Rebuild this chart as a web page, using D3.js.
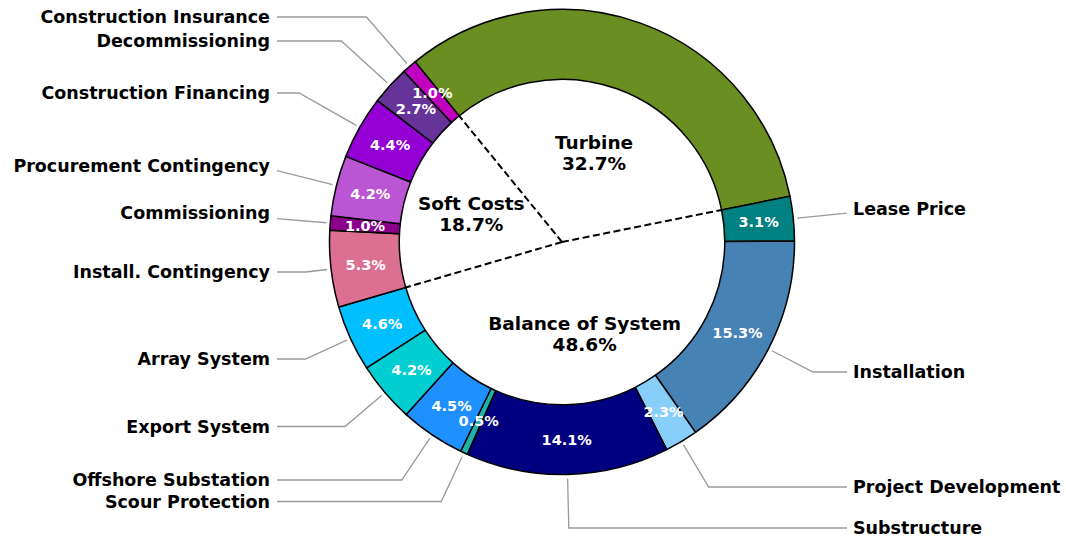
<!DOCTYPE html>
<html>
<head>
<meta charset="utf-8">
<script src="https://cdn.jsdelivr.net/npm/d3@7"></script>
<style>
  html, body { margin: 0; padding: 0; background: #fff; }
  svg { display: block; }
  text { font-family: "DejaVu Sans", sans-serif; font-weight: bold; }
</style>
</head>
<body>
<svg id="chart" width="1066" height="538"></svg>
<script>
// ---- data ----
const categories = [
  "Turbine", "Lease Price", "Installation", "Project Development", "Substructure",
  "Scour Protection", "Offshore Substation", "Export System", "Array System",
  "Install. Contingency", "Commissioning", "Procurement Contingency",
  "Construction Financing", "Decommissioning", "Construction Insurance"
];
const shares = [32.7, 3.1, 15.3, 2.3, 14.1, 0.5, 4.5, 4.2, 4.6, 5.3, 1.0, 4.2, 4.4, 2.7, 1.0];
const categoryGroup = [
  "Turbine", "Balance of System", "Balance of System", "Balance of System", "Balance of System",
  "Balance of System", "Balance of System", "Balance of System", "Balance of System",
  "Soft Costs", "Soft Costs", "Soft Costs", "Soft Costs", "Soft Costs", "Soft Costs"
];
const groupNames = ["Turbine", "Balance of System", "Soft Costs"];
const groupShares = [32.7, 48.6, 18.7];

// ---- styles ----
const colors = [
  "#6b8e23", "#008080", "#4682b4", "#87cefa", "#000080",
  "#20b2aa", "#1e90ff", "#00ced1", "#00bfff",
  "#db7093", "#8b008b", "#ba55d3", "#9400d3", "#663399", "#bf00bf"
];

// ---- layout ----
const W = 1066, H = 538;
const cx = 562, cy = 242;
const rOut = 232.5, rIn = 0.7 * rOut;
const startDeg = -39.2;
const labelY = {
  "Construction Insurance": 17, "Decommissioning": 41, "Construction Financing": 93,
  "Procurement Contingency": 166, "Commissioning": 213, "Install. Contingency": 272,
  "Array System": 359, "Export System": 426.5, "Offshore Substation": 480,
  "Scour Protection": 501.5, "Lease Price": 208.5, "Installation": 372,
  "Project Development": 487, "Substructure": 528
};
const leftTextX = 270, rightTextX = 853, leftLineX = 277, rightLineX = 847;

const svg = d3.select("#chart");
svg.append("rect").attr("width", W).attr("height", H).attr("fill", "#fff");

const rows = categories.map((c, i) => ({ name: c, value: shares[i], group: categoryGroup[i], color: colors[i] }));

const start = startDeg * Math.PI / 180;
const pie = d3.pie().value(d => d.value).sort(null)
  .startAngle(start).endAngle(start + 2 * Math.PI);
const arcs = pie(rows);

const arc = d3.arc().innerRadius(rIn).outerRadius(rOut);
const g = svg.append("g").attr("transform", `translate(${cx},${cy})`);

// leader lines (drawn beneath ring)
const leaders = svg.append("g");
arcs.forEach(a => {
  const name = a.data.name;
  if (name === "Turbine") return;
  const mid = (a.startAngle + a.endAngle) / 2;
  const sx = Math.sin(mid), sy = -Math.cos(mid);
  const r1 = rOut + 4;
  const p0 = [cx + r1 * sx, cy + r1 * sy];
  const ly = labelY[name];
  const right = sx > 0;
  const endX = right ? rightLineX : leftLineX;
  let pts;
  const t = Math.abs(sy) > 1e-6 ? (ly - p0[1]) / sy : Infinity;
  const knee = [p0[0] + t * sx, ly];
  const beyond = right ? knee[0] > endX : knee[0] < endX;
  if (beyond) {
    const t2 = (endX - p0[0]) / sx;
    pts = [p0, [endX, p0[1] + t2 * sy]];
  } else {
    pts = [p0, knee, [endX, ly]];
  }
  leaders.append("path")
    .attr("d", d3.line()(pts))
    .attr("fill", "none").attr("stroke", "#9a9a9a").attr("stroke-width", 1.3);
  svg.append("text")
    .attr("x", right ? rightTextX : leftTextX)
    .attr("y", ly).attr("dy", "0.36em")
    .attr("text-anchor", right ? "start" : "end")
    .attr("font-size", 17.5).attr("fill", "#000")
    .text(name);
});

// ring
g.selectAll("path.slice").data(arcs).join("path")
  .attr("class", "slice")
  .attr("d", arc)
  .attr("fill", d => d.data.color)
  .attr("stroke", "#000").attr("stroke-width", 1.5)
  .attr("stroke-linejoin", "round");

// percentage labels (the turbine slice is labelled by its group label only)
const pctR = 0.85 * rOut;
g.selectAll("text.pct").data(arcs.filter(d => d.data.name !== "Turbine")).join("text")
  .attr("class", "pct")
  .attr("x", d => pctR * Math.sin((d.startAngle + d.endAngle) / 2))
  .attr("y", d => -pctR * Math.cos((d.startAngle + d.endAngle) / 2))
  .attr("dy", "0.36em")
  .attr("text-anchor", "middle")
  .attr("font-size", 14.5).attr("fill", "#fff")
  .text(d => d.data.value.toFixed(1) + "%");

// group boundaries & labels
const groupArcs = groupNames.map(gn => {
  const members = arcs.filter(a => a.data.group === gn);
  const s = d3.min(members, a => a.startAngle);
  const e = d3.max(members, a => a.endAngle);
  return { name: gn, start: s, end: e };
});
groupArcs.forEach(ga => {
  g.append("line")
    .attr("x1", 0).attr("y1", 0)
    .attr("x2", rIn * Math.sin(ga.start)).attr("y2", -rIn * Math.cos(ga.start))
    .attr("stroke", "#000").attr("stroke-width", 2)
    .attr("stroke-dasharray", "7,3.5");
});
const gR = 95;
groupArcs.forEach((ga, i) => {
  const mid = (ga.start + ga.end) / 2;
  const x = gR * Math.sin(mid), y = -gR * Math.cos(mid);
  const t = g.append("text")
    .attr("text-anchor", "middle").attr("font-size", 18.5).attr("fill", "#000");
  t.append("tspan").attr("x", x).attr("y", y - 10.5).attr("dy", "0.36em").text(ga.name);
  t.append("tspan").attr("x", x).attr("y", y + 10.5).attr("dy", "0.36em")
    .text(groupShares[groupNames.indexOf(ga.name)].toFixed(1) + "%");
});
</script>
</body>
</html>
